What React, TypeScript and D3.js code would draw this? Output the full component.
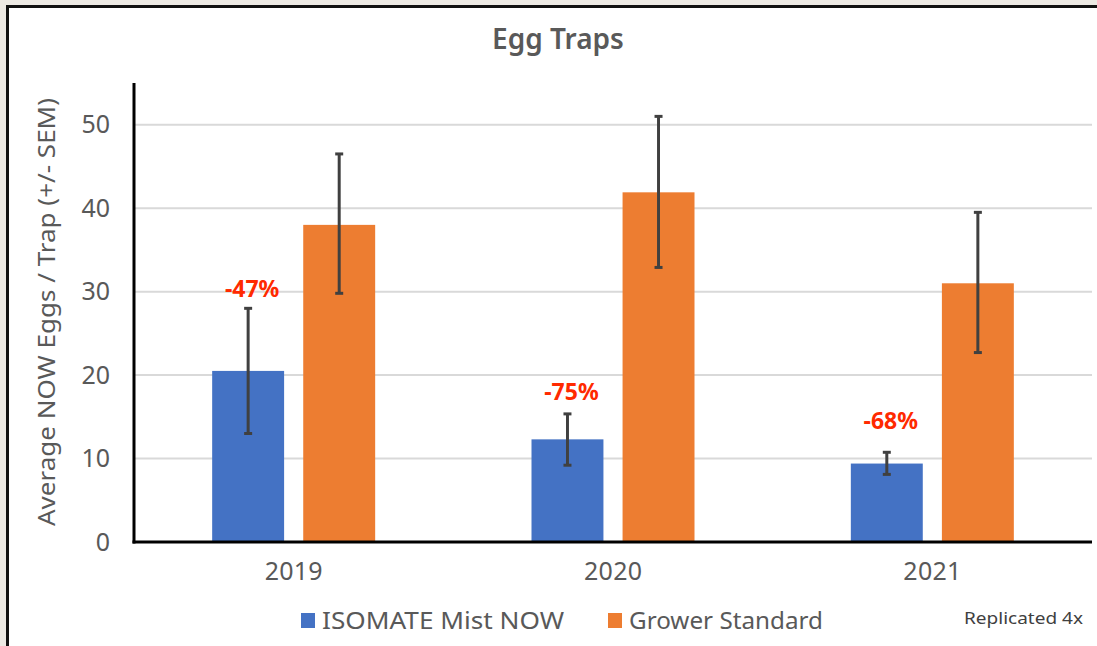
import React, { useRef, useEffect } from 'react';
import * as d3 from 'd3';

const years = ['2019', '2020', '2021'];
const seriesNames = ['ISOMATE Mist NOW', 'Grower Standard'];
const seriesColors = ['#4472C4', '#ED7D31'];
const isomateMean = [20.5, 12.3, 9.4];
const isomateLow = [13.0, 9.2, 8.1];
const isomateHigh = [28.0, 15.35, 10.75];
const growerMean = [38.0, 41.9, 31.0];
const growerLow = [29.8, 32.9, 22.7];
const growerHigh = [46.5, 51.0, 39.5];
const reductionLabels = ['-47%', '-75%', '-68%'];
const reductionLabelAt = [29.3, 17.0, 13.6];
const yTicks = [0, 10, 20, 30, 40, 50];

const FONT = '"Noto Sans", sans-serif';
const GREY = '#595959';

export default function App() {
    const svgRef = useRef(null);

    useEffect(() => {
        const W = 1097, H = 646;
        const margin = { top: 83, right: 5, bottom: 104, left: 134 };
        const svg = d3.select(svgRef.current);
        svg.selectAll('*').remove();

        // frame
        svg.append('rect').attr('width', W).attr('height', H).attr('fill', '#ece9e3');
        svg.append('rect')
            .attr('x', 7.5).attr('y', 6.5)
            .attr('width', W).attr('height', H)
            .attr('fill', '#ffffff')
            .attr('stroke', '#111').attr('stroke-width', 3);

        const y = d3.scaleLinear().domain([0, 55]).range([H - margin.bottom, margin.top]);
        const x0 = d3.scaleBand().domain(years).range([margin.left, W - margin.right]);
        const x1 = d3.scaleBand().domain(seriesNames).range([0, 163]).paddingInner(0.21);
        const groupOffset = (x0.bandwidth() - 163) / 2;

        // gridlines
        svg.append('g')
            .selectAll('line')
            .data(yTicks.filter(t => t > 0))
            .enter()
            .append('line')
            .attr('x1', margin.left).attr('x2', W - margin.right)
            .attr('y1', d => y(d)).attr('y2', d => y(d))
            .attr('stroke', '#d9d9d9').attr('stroke-width', 2);

        const series = [
            { name: seriesNames[0], mean: isomateMean, low: isomateLow, high: isomateHigh },
            { name: seriesNames[1], mean: growerMean, low: growerLow, high: growerHigh },
        ];

        series.forEach((s, si) => {
            const g = svg.append('g');
            g.selectAll('rect')
                .data(years)
                .enter()
                .append('rect')
                .attr('x', d => x0(d) + groupOffset + x1(s.name))
                .attr('y', (d, i) => y(s.mean[i]))
                .attr('width', x1.bandwidth())
                .attr('height', (d, i) => y(0) - y(s.mean[i]))
                .attr('fill', seriesColors[si]);

            const cx = d => x0(d) + groupOffset + x1(s.name) + x1.bandwidth() / 2;
            g.selectAll('line.err')
                .data(years)
                .enter()
                .append('line')
                .attr('class', 'err')
                .attr('x1', cx).attr('x2', cx)
                .attr('y1', (d, i) => y(s.low[i])).attr('y2', (d, i) => y(s.high[i]))
                .attr('stroke', '#404040').attr('stroke-width', 3);
            [s.low, s.high].forEach(arr => {
                g.selectAll(null)
                    .data(years)
                    .enter()
                    .append('line')
                    .attr('x1', d => cx(d) - 4).attr('x2', d => cx(d) + 4)
                    .attr('y1', (d, i) => y(arr[i])).attr('y2', (d, i) => y(arr[i]))
                    .attr('stroke', '#404040').attr('stroke-width', 3);
            });
        });

        // reduction labels
        svg.append('g')
            .selectAll('text')
            .data(years)
            .enter()
            .append('text')
            .attr('x', d => x0(d) + groupOffset + x1(seriesNames[0]) + x1.bandwidth() / 2 + 4)
            .attr('y', (d, i) => y(reductionLabelAt[i]))
            .attr('text-anchor', 'middle')
            .attr('font-family', FONT)
            .attr('font-weight', 'bold')
            .attr('font-size', 23)
            .attr('fill', '#FF2A00')
            .text((d, i) => reductionLabels[i]);

        // y axis
        const yAxis = d3.axisLeft(y).tickValues(yTicks).tickSize(0).tickPadding(24);
        const ya = svg.append('g')
            .attr('transform', `translate(${margin.left},0)`)
            .call(yAxis);
        ya.select('.domain').remove();
        ya.selectAll('text')
            .attr('font-family', FONT).attr('font-size', 25).attr('fill', GREY);

        // x axis
        const xAxis = d3.axisBottom(x0).tickSize(0).tickPadding(20);
        const xa = svg.append('g')
            .attr('transform', `translate(0,${y(0)})`)
            .call(xAxis);
        xa.select('.domain').remove();
        xa.selectAll('text')
            .attr('font-family', FONT).attr('font-size', 25).attr('fill', GREY)
            .attr('textLength', 58);

        // axis lines
        svg.append('line')
            .attr('x1', margin.left).attr('x2', margin.left)
            .attr('y1', y(55)).attr('y2', y(0) + 1.5)
            .attr('stroke', '#000').attr('stroke-width', 3);
        svg.append('line')
            .attr('x1', margin.left - 1.5).attr('x2', W - margin.right)
            .attr('y1', y(0)).attr('y2', y(0))
            .attr('stroke', '#000').attr('stroke-width', 3);

        // y title
        svg.append('text')
            .attr('transform', `translate(55,${312}) rotate(-90)`)
            .attr('text-anchor', 'middle')
            .attr('font-family', FONT).attr('font-size', 24).attr('fill', GREY)
            .attr('textLength', 428).attr('lengthAdjust', 'spacingAndGlyphs')
            .text('Average NOW Eggs / Trap (+/- SEM)');

        // title
        svg.append('text')
            .attr('x', 558).attr('y', 49)
            .attr('text-anchor', 'middle')
            .attr('font-family', FONT).attr('font-size', 28).attr('font-weight', 600).attr('fill', GREY)
            .text('Egg Traps');

        // legend
        const legendX = [301, 608];
        const legendLen = [242, 194];
        seriesNames.forEach((name, i) => {
            svg.append('rect')
                .attr('x', legendX[i]).attr('y', 613)
                .attr('width', 14).attr('height', 15)
                .attr('fill', seriesColors[i]);
            svg.append('text')
                .attr('x', legendX[i] + 21).attr('y', 629)
                .attr('font-family', FONT).attr('font-size', 23).attr('fill', GREY)
                .attr('textLength', legendLen[i]).attr('lengthAdjust', 'spacingAndGlyphs')
                .text(name);
        });

        svg.append('text')
            .attr('x', 964).attr('y', 624)
            .attr('font-family', FONT).attr('font-size', 17).attr('fill', '#404040')
            .attr('textLength', 119).attr('lengthAdjust', 'spacingAndGlyphs')
            .text('Replicated 4x');
    }, []);

    return (
        <svg ref={svgRef} width={1097} height={646}
            style={{ position: 'absolute', left: 0, top: 0, display: 'block' }} />
    );
}
